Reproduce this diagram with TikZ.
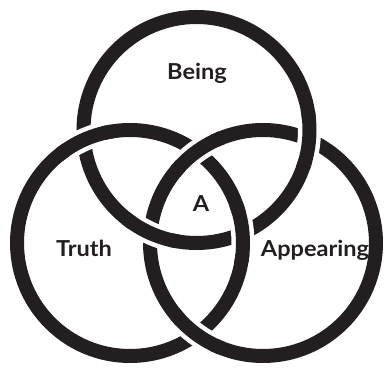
\documentclass[tikz,border=0pt]{standalone}
\usepackage{fontspec}
\setmainfont{Lato}[FakeStretch=1.07]
\usetikzlibrary{intersections}
\definecolor{ringblack}{HTML}{231F20}

\begin{document}
\begin{tikzpicture}[
		x=1pt, y=1pt,
		ring/.style = {draw=ringblack, line width=14pt},
		halo/.style = {draw=white, line width=23pt},
		lbl/.style = {text=ringblack, inner sep=0pt, anchor=base, font=\bfseries\fontsize{22}{26}\selectfont}
		]
		
		\useasboundingbox (0,0) rectangle (386,371);
		
		\coordinate (T) at (196.5,241);
		\coordinate (L) at (130,128);
		\coordinate (R) at (263,128);
		
		\draw[ring, name path=top] (T) circle (113);
		\draw[ring, name path=lft] (L) circle (113);
		\draw[ring, name path=rgt] (R) circle (113);
		
		\path[name intersections={of=lft and top, name=lt}];
		\path[name intersections={of=top and rgt, name=tr}];
		\path[name intersections={of=rgt and lft, name=rl}];
		
		% over-crossings: left over top, top over right, right over left
		\foreach \i in {1,2} {
			\begin{scope}
				\clip (lt-\i) circle (22);
				\draw[halo] (L) circle (113);
			\end{scope}
			\begin{scope}
				\clip (lt-\i) circle (30);
				\draw[ring] (L) circle (113);
			\end{scope}
			\begin{scope}
				\clip (tr-\i) circle (22);
				\draw[halo] (T) circle (113);
			\end{scope}
			\begin{scope}
				\clip (tr-\i) circle (30);
				\draw[ring] (T) circle (113);
			\end{scope}
			\begin{scope}
				\clip (rl-\i) circle (22);
				\draw[halo] (R) circle (113);
			\end{scope}
			\begin{scope}
				\clip (rl-\i) circle (30);
				\draw[ring] (R) circle (113);
			\end{scope}
		}
		
		\node[lbl] (being) at (197,291) {Being};
		\node[lbl] (truth) at (84,114) {Truth};
		\node[lbl] (appearing) at (315,114) {Appearing};
		\node[lbl] (a) at (201,159) {A};
\end{tikzpicture}
\end{document}
